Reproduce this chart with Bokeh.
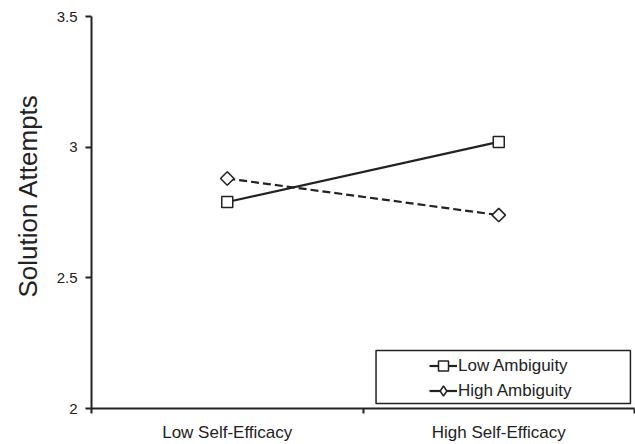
from bokeh.plotting import figure
from bokeh.models import (Range1d, FixedTicker, Legend, LegendItem, BoxAnnotation, Title)
from bokeh.embed import file_html
from bokeh.resources import INLINE
import math

# ---- data ----
categories = ["Low Self-Efficacy", "High Self-Efficacy"]
low_ambiguity = [2.79, 3.02]
high_ambiguity = [2.88, 2.74]
series_names = ["Low Ambiguity", "High Ambiguity"]
y_ticks = [2, 2.5, 3, 3.5]
y_tick_labels = ["2", "2.5", "3", "3.5"]
y_title = "Solution Attempts"

FONT = "Liberation Sans"
INK = "#222222"

xs = [i + 0.5 for i in range(len(categories))]
bounds = [float(i) for i in range(len(categories) + 1)]

p = figure(width=635, height=444, output_backend="svg", toolbar_location=None,
           x_range=Range1d(0, len(categories)), y_range=Range1d(y_ticks[0], y_ticks[-1]),
           min_border_left=90, min_border_right=1, min_border_top=16, min_border_bottom=36)
p.outline_line_color = None
p.xgrid.visible = False
p.ygrid.visible = False
p.background_fill_color = "white"

# lines
l_low = p.line(xs, low_ambiguity, line_color=INK, line_width=2.2)
l_high = p.line(xs, high_ambiguity, line_color=INK, line_width=2.2, line_dash="8 4")
# markers
s_low = p.scatter(xs, low_ambiguity, marker="square", size=11, fill_color="white",
                  line_color=INK, line_width=1.5)
# diamond used for the legend swatch (fully covered by the rotated square below)
s_high_key = p.scatter(xs, high_ambiguity, marker="diamond", size=12, fill_color="white",
                       line_color=INK, line_width=1.5)
s_high = p.scatter(xs, high_ambiguity, marker="square", angle=math.pi / 4, size=9.5,
                   fill_color="white", line_color=INK, line_width=1.5)

# x axis
xa = p.xaxis[0]
xa.ticker = FixedTicker(ticks=xs, minor_ticks=bounds)
xa.major_label_overrides = {x: c for x, c in zip(xs, categories)}
xa.major_tick_out = 0
xa.major_tick_in = 0
xa.minor_tick_out = 5
xa.minor_tick_in = 0
xa.minor_tick_line_color = INK
xa.minor_tick_line_width = 2
xa.axis_line_color = INK
xa.axis_line_width = 2
xa.major_label_text_font = FONT
xa.major_label_text_font_size = "17px"
xa.major_label_text_color = INK
xa.major_label_standoff = 9

# y axis
ya = p.yaxis[0]
ya.ticker = FixedTicker(ticks=y_ticks, minor_ticks=[])
ya.major_label_overrides = {t: s for t, s in zip(y_ticks, y_tick_labels)}
ya.major_tick_out = 6
ya.major_tick_in = 0
ya.major_tick_line_color = INK
ya.major_tick_line_width = 2
ya.axis_line_color = INK
ya.axis_line_width = 2
ya.major_label_text_font = FONT
ya.major_label_text_font_size = "15px"
ya.major_label_text_color = INK
ya.major_label_standoff = 8

# y title (left side)
p.add_layout(Title(text=y_title, align="left", offset=111, standoff=21,
                   text_font=FONT, text_font_size="26px", text_font_style="normal",
                   text_color=INK), "left")

# legend frame
p.add_layout(BoxAnnotation(left=1.048, right=1.985, bottom=2.019, top=2.222,
                           fill_alpha=0, line_color=INK, line_width=1.5, line_alpha=1))

legend = Legend(items=[
    LegendItem(label=series_names[0], renderers=[l_low, s_low]),
    LegendItem(label=series_names[1], renderers=[l_low, s_high_key]),
], location=(338, 5), padding=0, margin=0, spacing=0,
    glyph_width=28, glyph_height=25, label_height=25, label_standoff=1,
    label_text_font=FONT, label_text_font_size="17px", label_text_color=INK,
    border_line_alpha=0, background_fill_alpha=0)
p.add_layout(legend)

open("out.html", "w").write(file_html(p, INLINE))
